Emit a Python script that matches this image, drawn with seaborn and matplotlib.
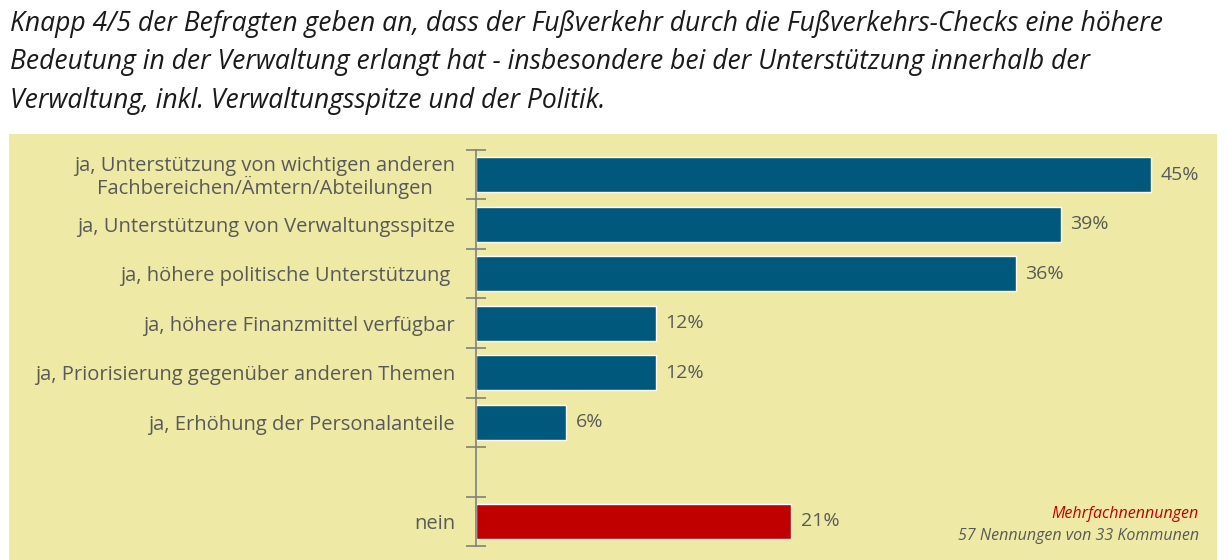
import matplotlib.pyplot as plt
import matplotlib.patches as mpatches
import seaborn as sns
import pandas as pd

categories = [
    "ja, Unterstützung von wichtigen anderen\nFachbereichen/Ämtern/Abteilungen",
    "ja, Unterstützung von Verwaltungsspitze",
    "ja, höhere politische Unterstützung ",
    "ja, höhere Finanzmittel verfügbar",
    "ja, Priorisierung gegenüber anderen Themen",
    "ja, Erhöhung der Personalanteile",
    "nein",
]
values = [45, 39, 36, 12, 12, 6, 21]
order = categories[:6] + [" "] + categories[6:]

title = ("Knapp 4/5 der Befragten geben an, dass der Fußverkehr durch die Fußverkehrs-Checks eine höhere\n"
         "Bedeutung in der Verwaltung erlangt hat - insbesondere bei der Unterstützung innerhalb der\n"
         "Verwaltung, inkl. Verwaltungsspitze und der Politik.")
note_red = "Mehrfachnennungen"
note_grey = "57 Nennungen von 33 Kommunen"

blue = "#00587c"
red = "#c00000"
yellow = "#eeeaa5"
grey = "#595959"

sns.set_theme(style="white")
plt.rcParams["font.family"] = ["Open Sans", "DejaVu Sans"]

df = pd.DataFrame({"cat": categories, "val": values})
palette = {c: blue for c in categories}
palette["nein"] = red

fig = plt.figure(figsize=(12.28, 5.6), dpi=100)
fig.patch.set_facecolor("white")

# yellow panel behind the chart
bg = fig.add_axes([9 / 1228, 0, 1208 / 1228, 426 / 560], zorder=0)
bg.set_axis_off()
bg.add_patch(mpatches.Rectangle((0, 0), 1, 1, transform=bg.transAxes,
                                facecolor=yellow, edgecolor="none"))

ax = fig.add_axes([476 / 1228, 14 / 560, 745 / 1228, 396 / 560], zorder=1)
ax.set_facecolor("none")

sns.barplot(data=df, y="cat", x="val", hue="cat", order=order, hue_order=categories,
            palette=palette, saturation=1, width=0.7, edgecolor="white", linewidth=1,
            legend=False, ax=ax)

ax.set_xlim(0, 49.7)
ax.set_ylim(len(order) - 0.5, -0.5)
for c in ax.containers:
    ax.bar_label(c, labels=[f"{v:.0f}%" if v == v else "" for v in c.datavalues],
                 padding=7, fontsize=14, color=grey)

ax.set_xlabel("")
ax.set_ylabel("")
ax.set_xticks([])
for s in ["top", "right", "bottom"]:
    ax.spines[s].set_visible(False)
ax.spines["left"].set_color("#808080")
ax.spines["left"].set_linewidth(1.2)

ax.set_yticks([i - 0.5 for i in range(len(order) + 1)], minor=True)
ax.tick_params(axis="y", which="minor", direction="inout", length=15, width=1.2,
               color="#808080", left=True)
ax.tick_params(axis="y", which="major", length=0, pad=15, labelsize=14.5, labelcolor=grey)
for lbl in ax.get_yticklabels():
    lbl.set_multialignment("center")
    lbl.set_linespacing(1.0)

fig.text(10 / 1228, 1 - 10 / 560, title, ha="left", va="top", fontsize=19.1,
         style="italic", color="#1a1a1a", linespacing=1.5)
fig.text(1199 / 1228, 1 - 514 / 560, note_red, ha="right", va="center",
         fontsize=11.5, style="italic", color=red)
fig.text(1199 / 1228, 1 - 536 / 560, note_grey, ha="right", va="center",
         fontsize=11.5, style="italic", color=grey)

fig.savefig("out.png", dpi=100)
